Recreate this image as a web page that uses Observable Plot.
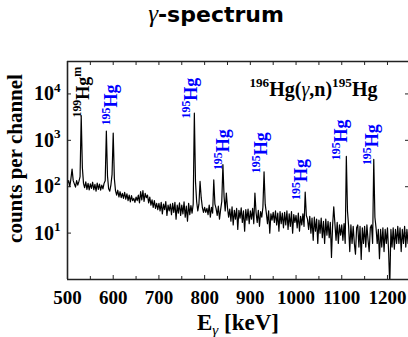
<!DOCTYPE html>
<html>
<head>
<meta charset="utf-8">
<script src="https://cdn.jsdelivr.net/npm/d3@7"></script>
<script src="https://cdn.jsdelivr.net/npm/@observablehq/plot@0.6"></script>
<style>
  html, body { margin: 0; padding: 0; background: #fff; }
  body { width: 408px; height: 337px; overflow: hidden; }
  #title { position: relative; height: 40px; width: 408px; }
  #title span { position: absolute; left: 0; top: 1px; width: 432px; text-align: center;
    font-family: "DejaVu Sans", sans-serif; font-weight: bold; font-size: 22px; line-height: 26px; color: #000; }
  #title i { font-family: "Liberation Serif", serif; font-weight: normal; font-size: 25px; }
  svg { display: block; }
</style>
</head>
<body>
<div id="title"><span><i>γ</i>-spectrum</span></div>
<div id="chart"></div>
<script>
// ---- data: channel calibration and counts per channel ----
const channelStart = 500;   // keV
const channelWidth = 2.5;   // keV per channel
const counts = [
 118,135,100,150,240,135,115,98,135,108,
 130,165,3400,260,118,95,128,88,118,85,
 115,92,125,86,112,80,120,88,114,84,
 108,90,118,135,1580,170,90,80,110,185,
 1430,150,82,66,84,60,78,58,72,56,
 76,54,70,50,66,47,64,50,56,46,
 60,50,66,45,78,52,82,48,72,58,
 66,45,60,40,52,36,50,34,44,32,
 44,30,46,26,42,32,48,24,40,30,
 42,25,44,28,46,20,40,27,45,24,
 40,26,47,22,38,18,44,25,39,27,
 42,3850,130,48,30,42,130,58,36,28,
 36,28,34,25,40,22,36,27,140,42,
 34,24,38,20,32,48,300,62,30,73,
 35,22,33,18,37,15,31,20,34,12,
 31,21,35,17,30,11,32,19,33,16,
 30,20,34,16,73,28,17,31,14,29,
 22,36,210,42,27,16,30,10,26,19,
 28,17,30,15,27,11,29,16,27,13,
 28,15,30,12,26,14,29,10,25,17,
 24,13,27,11,23,15,26,14,77,24,
 20,12,23,10,21,7,22,11,20,6,
 19,10,21,8,18,6,20,9,18,8,
 17,3,15,37,16,7,17,6,15,9,
 15,7,16,6,450,30,14,4,15,6,
 14,6,3.5,13,15,5,14,2.7,13,6,
 14,5,15,7,4,13,15,6,390,22,
 13,6,12,2.8,12,5,13,4,12,6,
 13,4,0.7,12,5,13,4.5,12,6,14,
 6,13,4,12,6,14,5,12,6,13
];

// peak labels
const labelText   = ["^{199}Hg^{m}", "^{195}Hg", "^{195}Hg", "^{195}Hg", "^{195}Hg", "^{195}Hg", "^{195}Hg", "^{195}Hg"];
const labelEnergy = [546, 609, 784, 854, 937, 1025, 1112, 1180];
const labelCount  = [3100, 2100, 2960, 228, 196, 52, 373, 292];
const labelColor  = ["black", "blue", "blue", "blue", "blue", "blue", "blue", "blue"];

const reactionText = "^{196}Hg(γ,n)^{195}Hg";
const reactionEnergy = 898;
const reactionCount = 9190;

// axes
const xTicks = [500, 600, 700, 800, 900, 1000, 1100, 1200];
const xMinorTicks = [550, 650, 750, 850, 950, 1050, 1150];
const yTicks = [10, 100, 1000, 10000];
const yTickLabels = ["10^{1}", "10^{2}", "10^{3}", "10^{4}"];
const xLabel = "E_{γ} [keV]";
const yLabel = "counts per channel";

// ---- build ----
const spectrum = counts.map((c, i) => ({e: channelStart + i * channelWidth, c}));
const labels = labelText.map((t, i) => ({t, e: labelEnergy[i], c: labelCount[i], col: labelColor[i]}));

const serif = "Liberation Serif, Times New Roman, serif";
const W = 408, H = 297;
const mL = 67, mR = 0, mT = 21, mB = 58;
const frameH = H - mT - mB;
const frameW = W - mL - mR;

const plot = Plot.plot({
  width: W, height: H,
  marginLeft: mL, marginRight: mR, marginTop: mT, marginBottom: mB,
  style: {background: "white", overflow: "hidden"},
  x: {domain: [500, 1246], axis: null},
  y: {type: "log", domain: [1, 50000], axis: null},
  marks: [
    Plot.line(spectrum, {x: "e", y: "c", stroke: "black", strokeWidth: 1.2, clip: true}),
    // frame: left, top, bottom
    Plot.ruleX([500], {stroke: "#222", strokeWidth: 1.6}),
    Plot.ruleY([1], {stroke: "#222", strokeWidth: 1.6}),
    Plot.ruleY([50000], {stroke: "#222", strokeWidth: 1.3}),
    // inward ticks
    Plot.tickX(xTicks, {x: d => d, insetTop: frameH - 4, stroke: "#222", strokeWidth: 1}),
    Plot.tickX(xMinorTicks, {x: d => d, insetTop: frameH - 3, stroke: "#222", strokeWidth: 1}),
    Plot.tickX(xTicks.concat(xMinorTicks), {x: d => d, insetBottom: frameH - 4, stroke: "#222", strokeWidth: 1}),
    Plot.tickY(yTicks, {y: d => d, insetRight: frameW - 4, stroke: "#222", strokeWidth: 1}),
    Plot.tickY(yTicks, {y: d => d, insetLeft: frameW - 3, stroke: "#222", strokeWidth: 1}),
    // tick labels
    Plot.text(xTicks, {x: d => d, text: d => String(d), frameAnchor: "bottom", lineAnchor: "bottom", dy: 24,
      fontSize: 19, fontWeight: "bold", fontFamily: serif, fill: "black"}),
    Plot.text(yTicks, {y: d => d, text: (d, i) => yTickLabels[i], frameAnchor: "left", textAnchor: "end",
      lineAnchor: "middle", dx: -7, fontSize: 20, fontWeight: "bold", fontFamily: serif, fill: "black"}),
    // axis labels
    Plot.text([xLabel], {frameAnchor: "bottom", textAnchor: "middle", lineAnchor: "bottom", dy: 50, fontSize: 23,
      fontWeight: "bold", fontFamily: serif, fill: "black"}),
    Plot.text([yLabel], {frameAnchor: "left", textAnchor: "middle", rotate: -90, lineAnchor: "bottom", dx: -46, dy: -12,
      fontSize: 21, fontWeight: "bold", fontFamily: serif, fill: "black"}),
    // peak labels
    Plot.text(labels, {x: "e", y: "c", text: "t", fill: "col", rotate: -90, textAnchor: "start",
      lineAnchor: "bottom", fontSize: 18, fontWeight: "bold", fontFamily: serif}),
    Plot.text([reactionText], {x: () => reactionEnergy, y: () => reactionCount, textAnchor: "start",
      lineAnchor: "bottom", fontSize: 20, fontWeight: "bold", fontFamily: serif, fill: "black"})
  ]
});

document.getElementById("chart").appendChild(plot);

// rich text: ^{..} superscript, _{..} subscript, γ italic
const NS = "http://www.w3.org/2000/svg";
plot.querySelectorAll("text").forEach(t => {
  const s = t.textContent;
  if (!/[\^_γ]/.test(s)) return;
  const fs = parseFloat(getComputedStyle(t).fontSize);
  const parts = [];
  const re = /(\^|_)\{([^}]*)\}/g;
  let last = 0, m;
  while ((m = re.exec(s))) {
    if (m.index > last) parts.push({t: s.slice(last, m.index), k: ""});
    parts.push({t: m[2], k: m[1]});
    last = re.lastIndex;
  }
  if (last < s.length) parts.push({t: s.slice(last), k: ""});
  t.textContent = "";
  let cur = 0;
  for (const p of parts) {
    const off = p.k === "^" ? -0.42 * fs : p.k === "_" ? 0.25 * fs : 0;
    const size = p.k ? 0.66 * fs : fs;
    for (const piece of p.t.split(/(γ)/)) {
      if (!piece) continue;
      const ts = document.createElementNS(NS, "tspan");
      ts.setAttribute("dy", (off - cur).toFixed(2));
      cur = off;
      ts.setAttribute("font-size", size.toFixed(2));
      if (piece === "γ") { ts.setAttribute("font-style", "italic"); ts.setAttribute("font-weight", "normal"); }
      ts.textContent = piece;
      t.appendChild(ts);
    }
  }
});
</script>
</body>
</html>
